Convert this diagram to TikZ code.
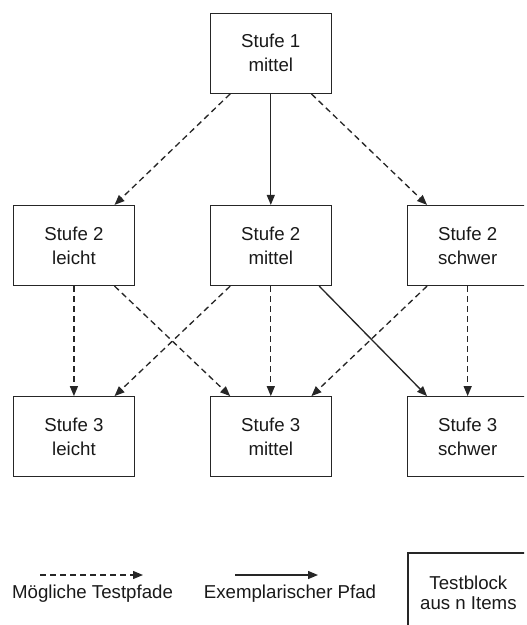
\documentclass[tikz,border=0pt]{standalone}
\usepackage{fontspec}
\setmainfont{Liberation Sans}
\usetikzlibrary{positioning, arrows.meta}

\begin{document}
\begin{tikzpicture}[
    x=0.75pt, y=-0.75pt,
    semithick,
    ]
    \tikzstyle{stufe}=[draw=black!85, line width=0.9pt, minimum width=90.75pt, minimum height=60pt, inner sep=0pt, align=center, text=black!90, font=\fontsize{14}{18}\selectfont]
    \tikzstyle{pfad}=[draw=black!85, line width=1pt, -{Triangle[length=7.5pt,width=6pt]}]
    \tikzstyle{moeglich}=[pfad, dash pattern=on 4.5pt off 3pt]
    \tikzstyle{legende}=[text=black!90, font=\fontsize{14}{15}\selectfont, inner sep=0pt]
    \useasboundingbox (0,0) rectangle (526,625);
    \clip (0,0) rectangle (524,625);
    % Stufe 1
    \node[stufe] (S1M) at (270.8,53.3) {Stufe 1\\mittel};
    % Stufe 2
    \node[stufe] (S2M) [below=83.25pt of S1M] {Stufe 2\\mittel};
    \node[stufe] (S2L) [left=56pt of S2M] {Stufe 2\\leicht};
    \node[stufe] (S2S) [right=56pt of S2M] {Stufe 2\\schwer};
    % Stufe 3
    \node[stufe] (S3M) [below=82.5pt of S2M] {Stufe 3\\mittel};
    \node[stufe] (S3L) [left=56pt of S3M] {Stufe 3\\leicht};
    \node[stufe] (S3S) [right=56pt of S3M] {Stufe 3\\schwer};
    % Pfade
    \draw[moeglich] (S1M.-135) -- (S2L.45);
    \draw[pfad] (S1M.south) -- (S2M.north);
    \draw[moeglich] (S1M.-45) -- (S2S.135);
    \draw[moeglich] (S2L.south) -- (S3L.north);
    \draw[moeglich] (S2L.-45) -- (S3M.135);
    \draw[moeglich] (S2M.-135) -- (S3L.45);
    \draw[moeglich] (S2M.south) -- (S3M.north);
    \draw[pfad] (S2M.-40) -- (S3S.135);
    \draw[moeglich] (S2S.-135) -- (S3M.45);
    \draw[moeglich] (S2S.south) -- (S3S.north);
    % Legende
    \coordinate (LMa) at (40,575);
    \coordinate (LMb) at (143,575);
    \coordinate (LEa) at (235,575);
    \coordinate (LEb) at (318,575);
    \draw[moeglich] (LMa) -- (LMb);
    \draw[pfad] (LEa) -- (LEb);
    \node[legende] (LMt) at (92.5,594) {Mögliche Testpfade};
    \node[legende] (LEt) at (290,594) {Exemplarischer Pfad};
    \node[stufe, anchor=north west, font=\fontsize{14}{15}\selectfont, minimum height=60pt] (TB) at (407.3,552.3) {Testblock\\aus n Items};
\end{tikzpicture}
\end{document}
